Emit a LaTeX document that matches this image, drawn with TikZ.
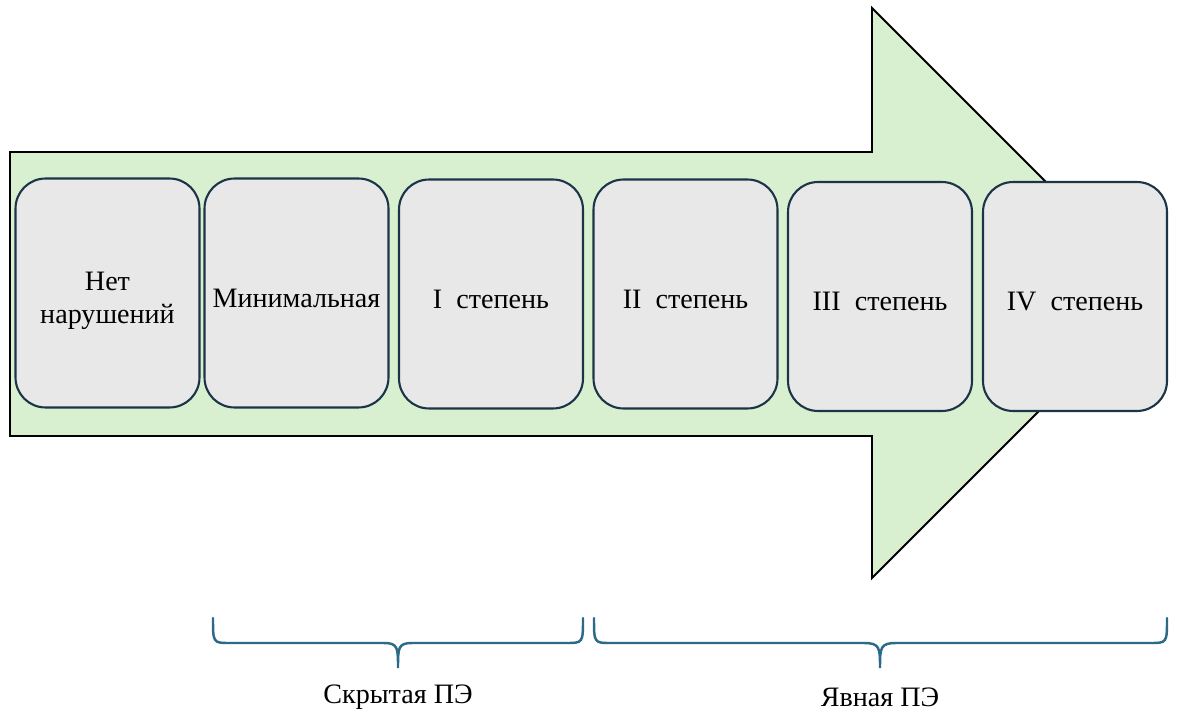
\documentclass[tikz,border=0pt]{standalone}
\usepackage{fontspec}
\setmainfont{Liberation Serif}
\usepackage{xcolor}
\definecolor{arrowgreen}{RGB}{217, 240, 208}
\definecolor{boxgray}{RGB}{232, 232, 232}
\definecolor{boxline}{RGB}{28, 52, 72}
\definecolor{braceblue}{RGB}{44, 106, 138}

\begin{document}
\begin{tikzpicture}[x=0.02cm, y=-0.02cm,
    stage/.style={draw=boxline, line width=1.2pt, fill=boxgray, rounded corners=0.6cm,
      minimum width=3.68cm, minimum height=4.58cm, align=center, inner sep=2pt,
      font=\fontsize{16}{19}\selectfont},
    curly/.style={draw=braceblue, line width=1.4pt, line cap=round},
    group/.style={font=\fontsize{16}{19}\selectfont}]
      \useasboundingbox (0,0) rectangle (1179,719);
      \draw[fill=arrowgreen, line width=1.1pt, line join=miter]
        (10,152) -- (872,152) -- (872,8) -- (1157,293) -- (872,578) -- (872,436) -- (10,436) -- cycle;
      \foreach \name/\x/\y/\h/\txt in {none/107.5/293/1.34cm/{Нет\\нарушений}, minim/296.5/293/0.58cm/Минимальная,
          first/491/294/0.58cm/I\ \ степень, second/685.5/294/0.58cm/II\ \ степень,
          third/880/296.5/0.58cm/III\ \ степень, fourth/1075/296.5/0.58cm/IV\ \ степень} {
        \node[stage, text height=\h] (\name) at (\x,\y) {\txt};
      }
      \draw[curly] (213,618) .. controls (213,643) and (213,643) .. (230,643) -- (384,643)
        .. controls (398,643) and (398,648) .. (398,668) .. controls (398,648) and (398,643) .. (412,643)
        -- (566,643) .. controls (583,643) and (583,643) .. (583,618);
      \draw[curly] (594,618) .. controls (594,643) and (594,643) .. (611,643) -- (864,643)
        .. controls (880,643) and (880,648) .. (880,668) .. controls (880,648) and (880,643) .. (896,643)
        -- (1150,643) .. controls (1167,643) and (1167,643) .. (1167,618);
      \node[group] (hidden) at (398,697) {Скрытая ПЭ};
      \node[group] (overt) at (880,697) {Явная ПЭ};
    \end{tikzpicture}
\end{document}
